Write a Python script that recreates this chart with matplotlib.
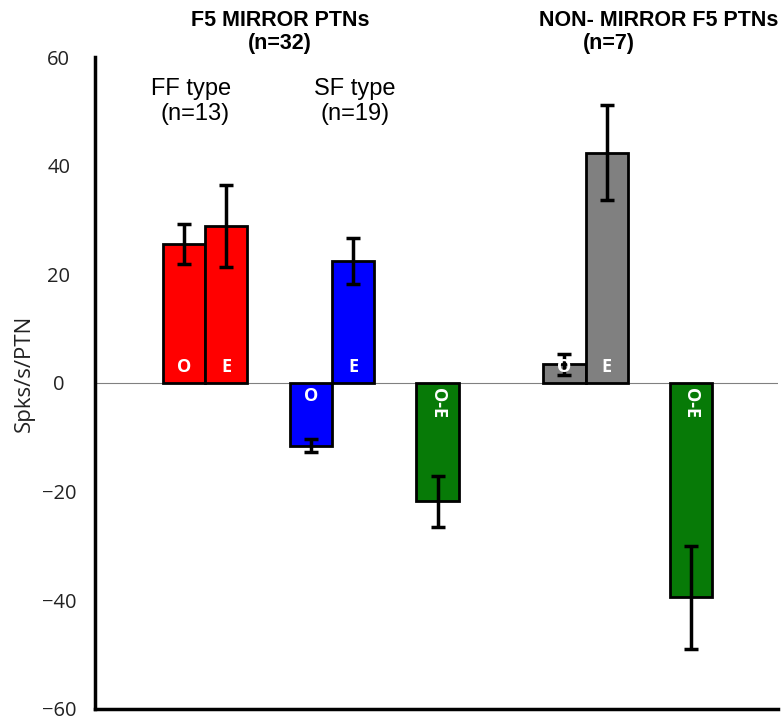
import numpy as np
import matplotlib.pyplot as plt

# Datos
positions = [0, 1, 3, 4, 6, 9, 10, 12]
values = [25.6, 28.9, -11.6, 22.5, -21.8, 3.4, 42.4, -39.5]
errors = [3.7, 7.5, 1.2, 4.2, 4.7, 2.0, 8.8, 9.5]
colors = ['#ff0000', '#ff0000', '#0000ff', '#0000ff', '#077a07',
          '#808080', '#808080', '#077a07']
bar_labels = ['O', 'E', 'O', 'E', 'O-E', 'O', 'E', 'O-E']
yticks = [-60, -40, -20, 0, 20, 40, 60]

fig = plt.figure(figsize=(7.83, 7.2), dpi=100)
ax = fig.add_axes([0.1213, 0.0155, 0.8723, 0.9053])

ax.bar(positions, values, width=1.0, color=colors, edgecolor='black',
       linewidth=2, yerr=errors, capsize=5,
       error_kw=dict(elinewidth=2.5, capthick=2.5, ecolor='black'), zorder=3)

ax.axhline(0, color='#808080', linewidth=0.8, zorder=1)

# Etiquetas dentro de las barras
lab_font = dict(color='white', fontweight='bold', fontsize=13, family='Open Sans',
                ha='center', zorder=5)
for x, v, lab in zip(positions, values, bar_labels):
    if lab == 'O-E':
        ax.text(x, -1.0, lab, rotation=270, va='top', **lab_font)
    elif v >= 0:
        ax.text(x, 1.2, lab, va='bottom', **lab_font)
    else:
        ax.text(x, -0.8, lab, va='top', **lab_font)

ax.set_xlim(-2.1, 14.05)
ax.set_ylim(-60, 60)
ax.set_yticks(yticks)
ax.set_yticklabels([f'{t}'.replace('-', '\u2212') for t in yticks])
ax.set_xticks([])
ax.tick_params(axis='y', length=0, labelsize=14.5, pad=26)
for lbl in ax.get_yticklabels():
    lbl.set_family('Open Sans')
    lbl.set_color('#222222')
    lbl.set_ha('center')

ax.spines['top'].set_visible(False)
ax.spines['right'].set_visible(False)
ax.spines['left'].set_linewidth(2.5)
ax.spines['bottom'].set_linewidth(2.5)

fig.text(24 / 783, 1 - 373 / 720, 'Spks/s/PTN', rotation=90, ha='center',
         va='center', fontsize=16, family='Open Sans', color='#222222')

# Títulos de grupos
arial = ['Liberation Sans', 'DejaVu Sans']
fig.text(280 / 783, 1 - 20 / 720, 'F5 MIRROR PTNs', ha='center', va='center',
         fontsize=15.5, fontweight='bold', family=arial)
fig.text(280 / 783, 1 - 44 / 720, '(n=32)', ha='center', va='center',
         fontsize=15.5, fontweight='bold', family=arial)
fig.text(659 / 783, 1 - 20 / 720, 'NON- MIRROR F5 PTNs', ha='center', va='center',
         fontsize=15.5, fontweight='bold', family=arial)
fig.text(609 / 783, 1 - 44 / 720, '(n=7)', ha='center', va='center',
         fontsize=15.5, fontweight='bold', family=arial)

fig.text(191 / 783, 1 - 89 / 720, 'FF type', ha='center', va='center',
         fontsize=17, family=arial)
fig.text(195 / 783, 1 - 114 / 720, '(n=13)', ha='center', va='center',
         fontsize=17, family=arial)
fig.text(355 / 783, 1 - 89 / 720, 'SF type', ha='center', va='center',
         fontsize=17, family=arial)
fig.text(355 / 783, 1 - 114 / 720, '(n=19)', ha='center', va='center',
         fontsize=17, family=arial)

plt.savefig('out.png', dpi=100)
